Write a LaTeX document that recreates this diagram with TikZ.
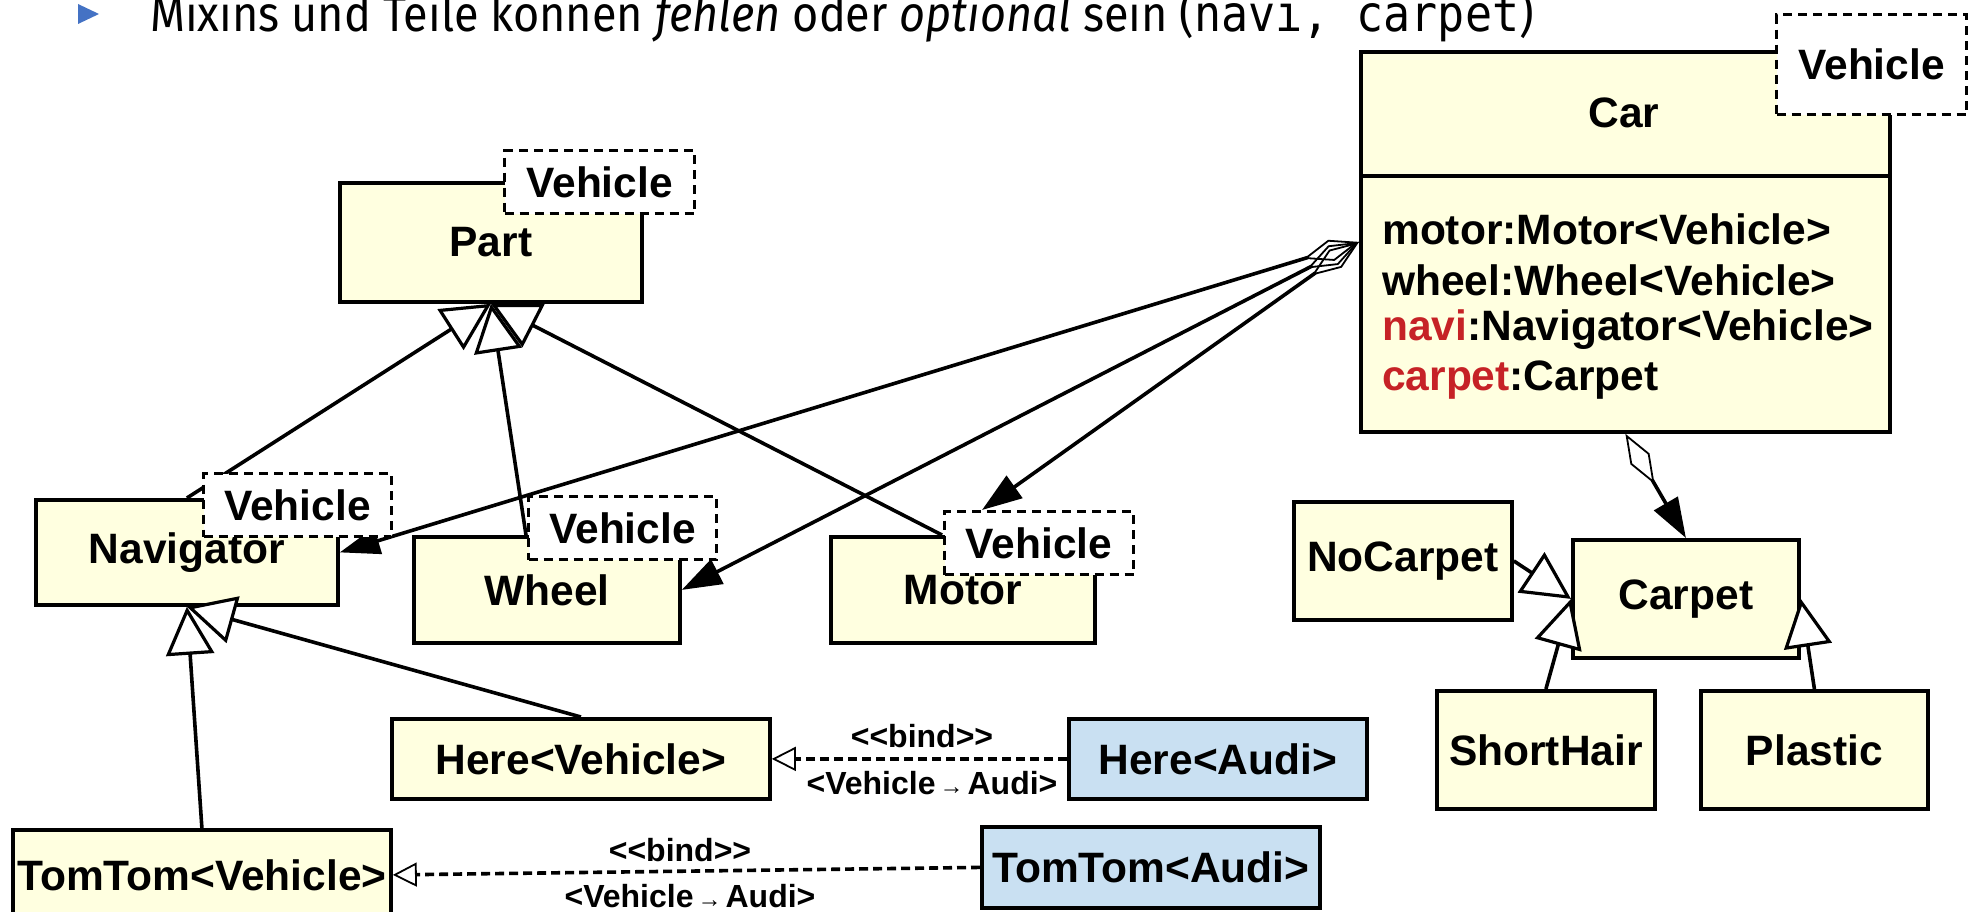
\documentclass[tikz,border=0pt]{standalone}
\usepackage{fontspec}
\setmainfont{Liberation Sans}
\newfontfamily\titlefont[FakeStretch=0.9]{Fira Sans}
\newfontfamily\monofont[FakeStretch=0.9]{DejaVu Sans Mono}
\usetikzlibrary{arrows.meta}
\definecolor{boxyellow}{HTML}{FFFFE0}
\definecolor{boxblue}{HTML}{C9E0F2}
\definecolor{attrred}{HTML}{C62226}
\definecolor{bulletblue}{HTML}{4472C4}
\begin{document}
\begin{tikzpicture}[x=1pt,y=-1pt,
  every node/.style={font=\fontsize{42.5}{50}\selectfont\bfseries, inner sep=0pt},
  cls/.style={draw, line width=3.8pt, fill=boxyellow, anchor=north west},
  inst/.style={draw, line width=3.8pt, fill=boxblue, anchor=north west},
  tmpl/.style={draw, line width=3.2pt, fill=white, dash pattern=on 9pt off 6pt, anchor=north west},
  attr/.style={anchor=west},
  lbl/.style={font=\fontsize{32}{36}\selectfont\bfseries},
  conn/.style={line width=3.6pt},
  gen/.style={conn, -{Triangle[fill=white, length=48pt, width=48pt, line width=3.2pt]}},
  agg/.style={conn, {Diamond[open, length=58pt, width=22pt, line width=1.8pt]}-{Triangle[length=40pt, width=27pt]}},
  bindarr/.style={line width=3.6pt, dash pattern=on 9pt off 5pt, -{Triangle[fill=white, length=24pt, width=24pt, line width=1.8pt]}},
]
\useasboundingbox (0,0) rectangle (1975,912);
\fill[white] (0,0) rectangle (1975,912);

% title line
\fill[bulletblue] (78,4) -- (99,14) -- (78,24) -- cycle;
\node[anchor=base west, font=\titlefont\fontsize{50}{54}\selectfont] (title) at (150,32)
  {Mixins und Teile können \emph{fehlen} oder \emph{optional} sein ({\monofont navi, carpet})};

% classes
\node[cls, minimum width=302, minimum height=119] (part) at (338,181) {Part};
\node[cls, minimum width=529, minimum height=380] (car) at (1359,50) {};
\coordinate (sep) at (0,176);
\draw[line width=3.8pt] (car.west |- sep) -- (car.east |- sep);
\node (carname) at (1624,113) {Car};
\node[attr] (a1) at (1382,229) {motor:Motor<Vehicle>};
\node[attr] (a2) at (1382,280) {wheel:Wheel<Vehicle>};
\node[attr] (a3) at (1382,330) {\textcolor{attrred}{navi}:Navigator<Vehicle>};
\node[attr] (a4) at (1382,380) {\textcolor{attrred}{carpet}:Carpet};

\node[cls, minimum width=302, minimum height=105] (nav) at (34,498) {Navigator};
\node[cls, minimum width=266, minimum height=106] (wheel) at (412,535) {Wheel};
\node[cls, minimum width=264, minimum height=106] (motor) at (829,535) {Motor};
\node[cls, minimum width=218, minimum height=118] (nocarpet) at (1292,500) {NoCarpet};
\node[cls, minimum width=226, minimum height=118] (carpet) at (1571,538) {Carpet};
\node[cls, minimum width=218, minimum height=118] (short) at (1435,689) {ShortHair};
\node[cls, minimum width=227, minimum height=118] (plastic) at (1699,689) {Plastic};
\node[cls, minimum width=378, minimum height=80] (herev) at (390,717) {Here<Vehicle>};
\node[inst, minimum width=298, minimum height=80] (herea) at (1067,717) {Here<Audi>};
\node[cls, minimum width=378, minimum height=90] (tomv) at (11,828) {TomTom<Vehicle>};
\node[inst, minimum width=338, minimum height=81] (toma) at (980,825) {TomTom<Audi>};

% connector end points
\coordinate (wtop) at (526,535);
\coordinate (mtop) at (942,535);
\coordinate (mtip) at (982,510);

% generalizations
\draw[gen] (nav.north) -- (part.south);
\draw[gen] (wtop) -- (part.south);
\draw[gen] (mtop) -- (part.south);
\draw[gen] (herev.north) -- (nav.south);
\draw[gen] (tomv.north) -- (nav.south);
\draw[gen] (nocarpet.east) -- (carpet.west);
\draw[gen] (short.north) -- (carpet.west);
\draw[gen] (plastic.north) -- (carpet.east);

% aggregations
\draw[agg] (car.west) -- (nav.east);
\draw[agg] (car.west) -- (wheel.east);
\draw[agg] (car.west) -- (mtip);
\draw[agg] (car.south) -- (carpet.north);

% bindings
\draw[bindarr] (herea.west) -- (herev.east);
\draw[bindarr] (toma.west) -- (tomv.east);
\node[lbl] (b1) at (922,736) {<\kern0pt<bind>\kern0pt>};
\node[lbl] (b2) at (932,783) {<Vehicle{\fontsize{24}{24}\selectfont\,→\,}Audi>};
\node[lbl] (b3) at (680,850) {<\kern0pt<bind>\kern0pt>};
\node[lbl] (b4) at (690,896) {<Vehicle{\fontsize{24}{24}\selectfont\,→\,}Audi>};

% template parameter boxes
\node[tmpl, minimum width=190, minimum height=63] (partT) at (503,149) {Vehicle};
\node[tmpl, minimum width=190, minimum height=100] (carT) at (1775,13) {Vehicle};
\node[tmpl, minimum width=188, minimum height=63] (navT) at (202,472) {Vehicle};
\node[tmpl, minimum width=188, minimum height=63] (wheelT) at (527,495) {Vehicle};
\node[tmpl, minimum width=189, minimum height=63] (motorT) at (943,510) {Vehicle};
\end{tikzpicture}
\end{document}
